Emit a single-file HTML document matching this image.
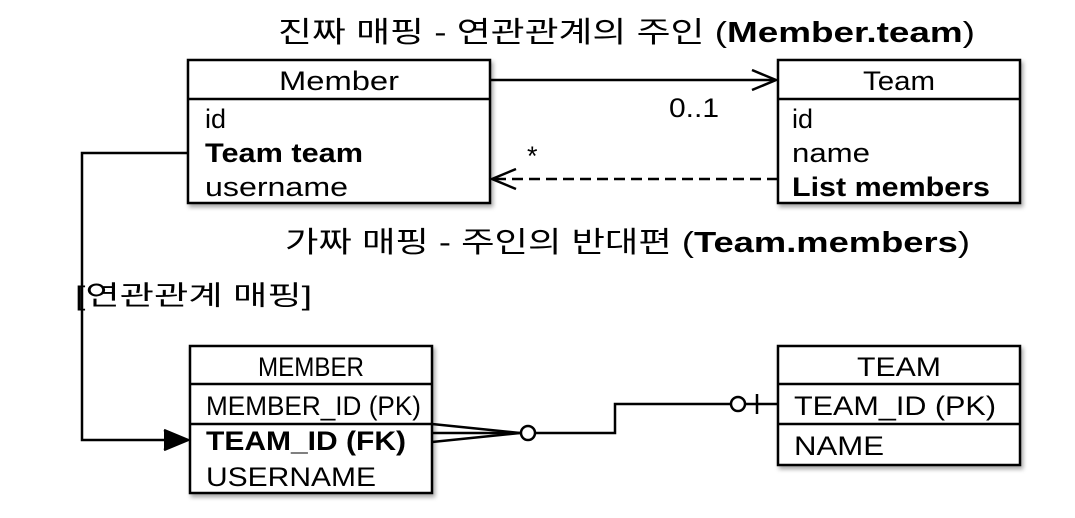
<!DOCTYPE html>
<html><head><meta charset="utf-8"><style>
body{margin:0;background:#fff}
svg text{font-family:"Liberation Sans","Noto Sans CJK KR",sans-serif;fill:#000}
</style></head><body>
<svg width="1075" height="513" viewBox="0 0 1075 513" xmlns="http://www.w3.org/2000/svg">
<defs><filter id="s" x="-5%" y="-5%" width="115%" height="115%"><feDropShadow dx="2" dy="3" stdDeviation="2" flood-opacity="0.35"/></filter></defs>
<g fill="#fff" stroke="#000" stroke-width="2.5">
<rect x="188" y="60" width="302" height="143" filter="url(#s)"/>
<rect x="778" y="60" width="242" height="143" filter="url(#s)"/>
<rect x="190" y="346" width="242" height="147" filter="url(#s)"/>
<rect x="778" y="346" width="242" height="119" filter="url(#s)"/>
</g>
<g stroke="#000" stroke-width="2.5" fill="none">
<line x1="188" y1="99" x2="490" y2="99"/>
<line x1="778" y1="99" x2="1020" y2="99"/>
<line x1="190" y1="384" x2="432" y2="384"/>
<line x1="190" y1="424" x2="432" y2="424"/>
<line x1="778" y1="384" x2="1020" y2="384"/>
<line x1="778" y1="424" x2="1020" y2="424"/>
<line x1="490" y1="80" x2="776" y2="80"/>
<polyline points="752,70 776,80 752,90"/>
<line x1="778" y1="179" x2="492" y2="179" stroke-dasharray="11,6"/>
<polyline points="516,169 492,179 516,189"/>
<polyline points="188,153 82,153 82,440 188,440"/>
<polyline points="164,430 188,440 164,450" fill="#000"/>
<polyline points="432,424 520,433 432,442"/>
<line x1="432" y1="433" x2="520" y2="433"/>
<circle cx="528" cy="433" r="7"/>
<polyline points="535,433 615,433 615,404 731,404"/>
<circle cx="738" cy="404" r="7"/>
<line x1="745" y1="404" x2="778" y2="404"/>
<line x1="757" y1="394" x2="757" y2="414"/>
</g>
<g font-size="27">
<text x="278" y="42" font-size="29" textLength="697" lengthAdjust="spacingAndGlyphs">진짜 매핑 - 연관관계의 주인 (<tspan font-weight="bold">Member.team</tspan>)</text>
<text x="285" y="252" font-size="29" textLength="685" lengthAdjust="spacingAndGlyphs">가짜 매핑 - 주인의 반대편 (<tspan font-weight="bold">Team.members</tspan>)</text>
<text x="75" y="305" textLength="237" lengthAdjust="spacingAndGlyphs">[연관관계 매핑]</text>
<text x="339" y="90" text-anchor="middle" textLength="120" lengthAdjust="spacingAndGlyphs">Member</text>
<text x="899" y="90" text-anchor="middle" textLength="72" lengthAdjust="spacingAndGlyphs">Team</text>
<text x="205" y="128">id</text>
<text x="205" y="162" font-weight="bold" textLength="158" lengthAdjust="spacingAndGlyphs">Team team</text>
<text x="205" y="196" textLength="143" lengthAdjust="spacingAndGlyphs">username</text>
<text x="669" y="117" textLength="50" lengthAdjust="spacingAndGlyphs">0..1</text>
<text x="527" y="165">*</text>
<text x="792" y="128">id</text>
<text x="792" y="162" textLength="78" lengthAdjust="spacingAndGlyphs">name</text>
<text x="792" y="196" font-weight="bold" textLength="198" lengthAdjust="spacingAndGlyphs">List members</text>
<text x="311" y="376" text-anchor="middle" textLength="106" lengthAdjust="spacingAndGlyphs">MEMBER</text>
<text x="206" y="415" textLength="215" lengthAdjust="spacingAndGlyphs">MEMBER_ID (PK)</text>
<text x="206" y="450" font-weight="bold" textLength="200" lengthAdjust="spacingAndGlyphs">TEAM_ID (FK)</text>
<text x="206" y="486" textLength="170" lengthAdjust="spacingAndGlyphs">USERNAME</text>
<text x="899" y="376" text-anchor="middle" textLength="84" lengthAdjust="spacingAndGlyphs">TEAM</text>
<text x="794" y="415" textLength="202" lengthAdjust="spacingAndGlyphs">TEAM_ID (PK)</text>
<text x="794" y="455" textLength="90" lengthAdjust="spacingAndGlyphs">NAME</text>
</g>
</svg>
</body></html>
